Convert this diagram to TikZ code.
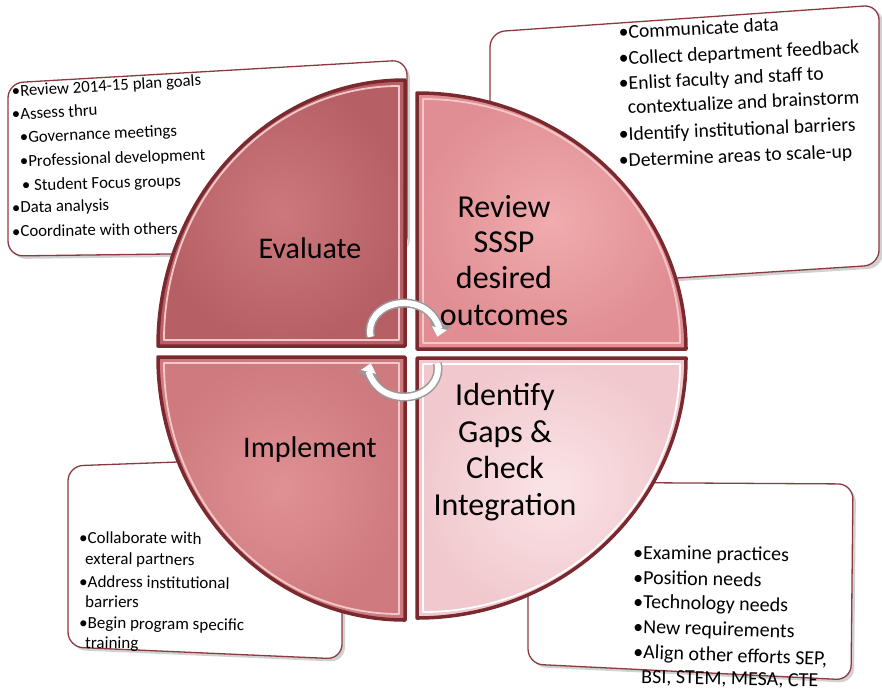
\documentclass[tikz,border=0pt]{standalone}
\usepackage{fontspec}
\setmainfont{Carlito}
\usetikzlibrary{arrows.meta}
\definecolor{bevel}{RGB}{122,42,47}
\definecolor{boxline}{RGB}{140,58,64}
\definecolor{evalin}{RGB}{204,120,124}
\definecolor{evalout}{RGB}{182,96,101}
\definecolor{revin}{RGB}{240,172,174}
\definecolor{revout}{RGB}{224,142,147}
\definecolor{implin}{RGB}{224,145,148}
\definecolor{implout}{RGB}{206,122,126}
\definecolor{identin}{RGB}{251,228,230}
\definecolor{identout}{RGB}{240,200,205}
\definecolor{hilite}{RGB}{244,200,202}
\tikzset{
  infobox/.style={fill=white, draw=boxline, line width=1.3pt, rounded corners=15pt},
  boxshadow/.style={fill=black, opacity=0.18, rounded corners=15pt},
  quad/.style={draw=bevel, line width=3.5pt, line join=round},
  inset/.style={draw=hilite, line width=1.8pt, line join=round},
  smalltxt/.style={anchor=base west, inner sep=0pt, font=\fontsize{16.8}{19}\selectfont},
  midtxt/.style={anchor=base west, inner sep=0pt, font=\fontsize{19.6}{21}\selectfont},
  brtxt/.style={anchor=base west, inner sep=0pt, font=\fontsize{20}{22}\selectfont},
  bltxt/.style={anchor=base west, inner sep=0pt, font=\fontsize{17}{19}\selectfont},
  bigleft/.style={anchor=base, inner sep=0pt, font=\fontsize{30}{34}\selectfont},
  bigright/.style={anchor=base, inner sep=0pt, font=\fontsize{32}{36}\selectfont},
  arrowout/.style={draw=black!40, line width=9pt, -{Triangle[width=21pt,length=13pt]}},
  arrowin/.style={draw=white, line width=6pt, -{Triangle[width=15pt,length=9pt]}}
}
\begin{document}
\begin{tikzpicture}[x=1pt,y=-1pt]
\useasboundingbox (0,0) rectangle (882,691);

% ---------- info boxes (behind the circle) ----------
\fill[boxshadow] (11,86) -- (410,63) -- (410,254) -- (11,259) -- cycle;
\draw[infobox] (8,83) -- (407,60) -- (407,251) -- (8,256) -- cycle;
\fill[boxshadow] (493,35) -- (883,8) -- (883,268) -- (493,293) -- cycle;
\draw[infobox] (490,32) -- (879,5) -- (879,265) -- (490,290) -- cycle;
\fill[boxshadow] (71,469) -- (345,459) -- (345,662) -- (71,650) -- cycle;
\draw[infobox] (68,466) -- (342,456) -- (342,659) -- (68,647) -- cycle;
\fill[boxshadow] (531,485) -- (856,487) -- (854,683) -- (531,667) -- cycle;
\draw[infobox] (528,482) -- (853,484) -- (851,680) -- (528,664) -- cycle;

% ---------- quadrants ----------
\shade[inner color=evalin, outer color=evalout] (405,346) -- ++(-247,0) arc[start angle=180,end angle=270,x radius=247,y radius=266] -- cycle;
\draw[quad] (405,346) -- ++(-247,0) arc[start angle=180,end angle=270,x radius=247,y radius=266] -- cycle;
\draw[inset] (399,340) -- ++(-235,0) arc[start angle=180,end angle=270,x radius=235,y radius=254] -- cycle;
\shade[inner color=revin, outer color=revout] (417,349) -- ++(0,-256) arc[start angle=270,end angle=360,x radius=269,y radius=256] -- cycle;
\draw[quad] (417,349) -- ++(0,-256) arc[start angle=270,end angle=360,x radius=269,y radius=256] -- cycle;
\draw[inset] (423,343) -- ++(0,-244) arc[start angle=270,end angle=360,x radius=257,y radius=244] -- cycle;
\shade[inner color=implin, outer color=implout] (405,357) -- ++(0,263) arc[start angle=90,end angle=180,x radius=247,y radius=263] -- cycle;
\draw[quad] (405,357) -- ++(0,263) arc[start angle=90,end angle=180,x radius=247,y radius=263] -- cycle;
\draw[inset] (399,363) -- ++(0,251) arc[start angle=90,end angle=180,x radius=235,y radius=251] -- cycle;
\shade[inner color=identin, outer color=identout] (417,358) -- ++(269,0) arc[start angle=0,end angle=90,x radius=269,y radius=260] -- cycle;
\draw[quad] (417,358) -- ++(269,0) arc[start angle=0,end angle=90,x radius=269,y radius=260] -- cycle;
\draw[inset, draw=white] (423,364) -- ++(257,0) arc[start angle=0,end angle=90,x radius=257,y radius=248] -- cycle;

% ---------- quadrant labels ----------
\node[bigleft] (ev) at (310,258) {Evaluate};
\node[bigleft] (im) at (310,457) {Implement};
\node[bigright] (r1) at (504,217) {Review};
\node[bigright] (r2) at (504,252) {SSSP};
\node[bigright] (r3) at (504,288) {desired};
\node[bigright] (r4) at (504,325) {outcomes};
\node[bigright] (i1) at (505,405) {Identify};
\node[bigright] (i2) at (505,442) {Gaps \&};
\node[bigright] (i3) at (505,478) {Check};
\node[bigright] (i4) at (505,515) {Integration};

% ---------- box texts ----------
\node[smalltxt, rotate=3.5] (a1) at (12,97) {•Review 2014-15 plan goals};
\node[smalltxt, rotate=3.0] (a2) at (12,120) {•Assess thru};
\node[smalltxt, rotate=2.6] (a3) at (20,143) {•Governance meetings};
\node[smalltxt, rotate=2.2] (a4) at (20,167) {•Professional development};
\node[smalltxt, rotate=1.8] (a5) at (22,191) {• Student Focus groups};
\node[smalltxt, rotate=1.4] (a6) at (12,213) {•Data analysis};
\node[smalltxt, rotate=1.0] (a7) at (12,237) {•Coordinate with others};

\node[midtxt, rotate=3.0] (b1) at (619,39) {•Communicate data};
\node[midtxt, rotate=2.8] (b2) at (619,65) {•Collect department feedback};
\node[midtxt, rotate=2.8] (b3) at (619,90) {•Enlist faculty and staff to};
\node[midtxt, rotate=2.6] (b4) at (628,114) {contextualize and brainstorm};
\node[midtxt, rotate=2.5] (b5) at (619,141) {•Identify institutional barriers};
\node[midtxt, rotate=2.3] (b6) at (619,167) {•Determine areas to scale-up};

\node[bltxt, rotate=-0.5] (c1) at (79,543) {•Collaborate with};
\node[bltxt, rotate=-0.7] (c2) at (85,564) {exteral partners};
\node[bltxt, rotate=-0.8] (c3) at (79,587) {•Address institutional};
\node[bltxt, rotate=-0.9] (c4) at (85,607) {barriers};
\node[bltxt, rotate=-1.0] (c5) at (79,628) {•Begin program specific};
\node[bltxt, rotate=-1.0] (c6) at (85,648) {training};

\node[brtxt, rotate=-0.8] (d1) at (633,559) {•Examine practices};
\node[brtxt, rotate=-1.2] (d2) at (633,584) {•Position needs};
\node[brtxt, rotate=-1.5] (d3) at (633,608) {•Technology needs};
\node[brtxt, rotate=-1.8] (d4) at (633,633) {•New requirements};
\node[brtxt, rotate=-2.2] (d5) at (633,658) {•Align other efforts SEP,};
\node[brtxt, rotate=-1.2] (d6) at (641,683) {BSI, STEM, MESA, CTE};

% ---------- cycle arrows ----------
\coordinate (ctop) at (404,331);
\coordinate (cbot) at (404,369);
\draw[arrowout] (ctop) ++(168:34 and 28) arc[start angle=168,end angle=372,x radius=34,y radius=28];
\draw[arrowin]  (ctop) ++(168:34 and 28) arc[start angle=168,end angle=372,x radius=34,y radius=28];
\draw[arrowout] (cbot) ++(-12:34 and 28) arc[start angle=-12,end angle=192,x radius=34,y radius=28];
\draw[arrowin]  (cbot) ++(-12:34 and 28) arc[start angle=-12,end angle=192,x radius=34,y radius=28];
\end{tikzpicture}
\end{document}
